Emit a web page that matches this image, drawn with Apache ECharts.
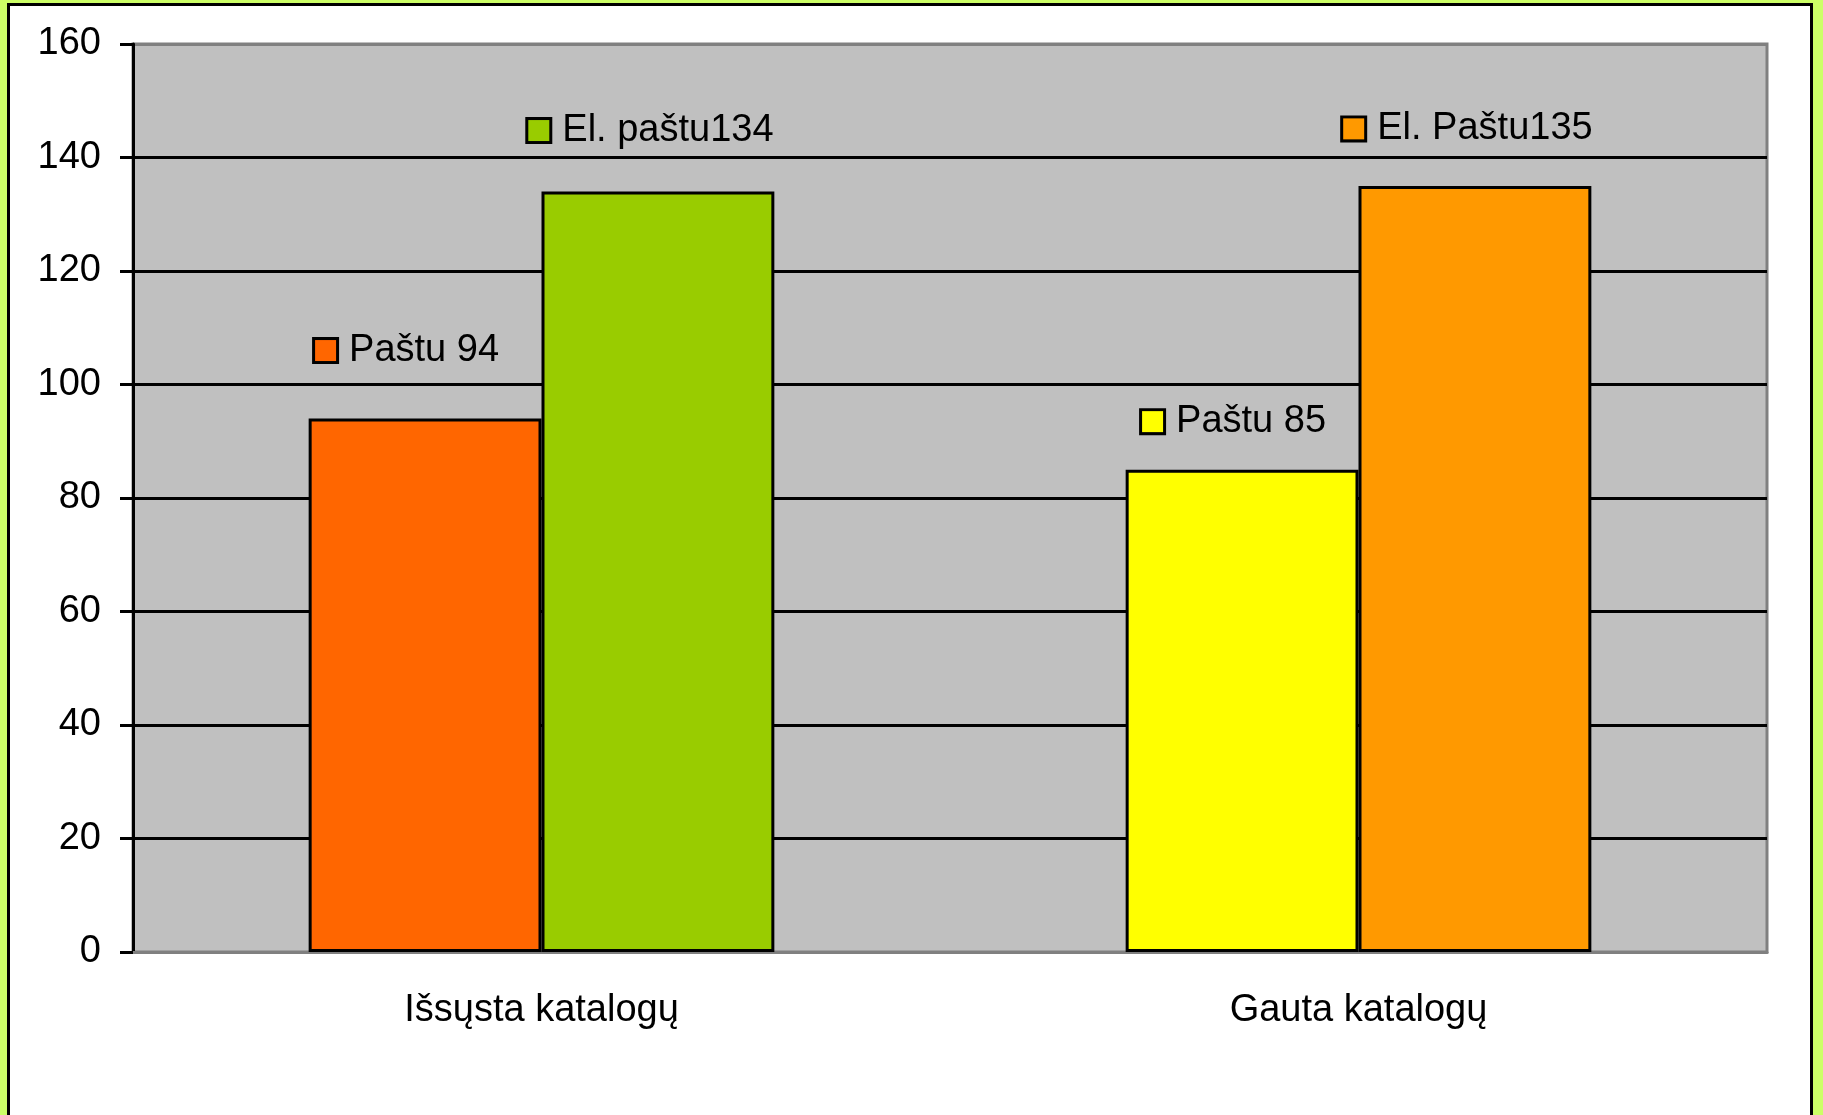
<!DOCTYPE html>
<html lang="lt">
<head>
<meta charset="UTF-8">
<title>Katalogai</title>
<script src="https://cdn.jsdelivr.net/npm/echarts@6/dist/echarts.min.js"></script>
<style>
  html, body { margin: 0; padding: 0; background: #ccff66; }
  #chart { width: 1823px; height: 1115px; }
</style>
</head>
<body>
<div id="chart"></div>
<script>
// duomenys
const categories = ['Išsųsta katalogų', 'Gauta katalogų'];
const pastuValues = [94, 85];
const elPastuValues = [134, 135];
const pastuLabels = ['Paštu ', 'Paštu '];
const elPastuLabels = ['El. paštu', 'El. Paštu'];
const pastuColors = ['#ff6600', '#ffff00'];
const elPastuColors = ['#99cc00', '#ff9900'];
const yTicks = [0, 20, 40, 60, 80, 100, 120, 140, 160];

// label placement (Excel put them by hand)
const pastuLift = [[-18, -44], [-8, -24]];
const elPastuLift = [[-7, -37], [-7, -33]];

const FONT = '"Liberation Sans", Arial, sans-serif';

function buildItems(values, prefixes, colors, lift) {
  return values.map((v, i) => ({
    value: v,
    itemStyle: { color: colors[i] },
    label: {
      show: true,
      position: 'top',
      offset: lift[i],
      formatter: '{box|}{t|' + prefixes[i] + v + '}',
      rich: {
        box: {
          width: 21, height: 21,
          backgroundColor: colors[i],
          borderColor: '#000', borderWidth: 3
        },
        t: {
          fontFamily: FONT, fontSize: 38, color: '#000',
          padding: [0, 0, 0, 13]
        }
      }
    }
  }));
}

const chart = echarts.init(document.getElementById('chart'));

// split line colours: grey on 0 and 160, black in between
const splitColors = yTicks.map((t, i) => (i === 0 || i === yTicks.length - 1) ? '#808080' : '#000');

chart.setOption({
  backgroundColor: '#ccff66',
  animation: false,
  graphic: [{
    type: 'rect',
    z: -100,
    silent: true,
    shape: { x: 8.5, y: 4.5, width: 1803, height: 1300 },
    style: { fill: '#fff', stroke: '#000', lineWidth: 3 }
  }],
  grid: {
    left: 133, top: 44, right: 56, bottom: 163,
    show: true,
    backgroundColor: '#c0c0c0',
    borderColor: '#808080',
    borderWidth: 3
  },
  xAxis: {
    type: 'category',
    data: categories,
    axisLine: { show: true, lineStyle: { color: '#808080', width: 3 } },
    axisTick: { show: false },
    axisLabel: {
      fontFamily: FONT, fontSize: 38, color: '#000', margin: 40
    }
  },
  yAxis: {
    type: 'value',
    min: 0, max: 160, interval: 20,
    axisLine: { show: true, lineStyle: { color: '#000', width: 3 } },
    axisTick: { show: true, length: 13, lineStyle: { color: '#000', width: 3 } },
    axisLabel: {
      fontFamily: FONT, fontSize: 38, color: '#000', margin: 32
    },
    splitLine: { show: true, lineStyle: { color: splitColors, width: 3 } }
  },
  series: [
    {
      name: 'Paštu',
      type: 'bar',
      barGap: 0,
      barCategoryGap: '43%',
      itemStyle: { borderColor: '#000', borderWidth: 3 },
      data: buildItems(pastuValues, pastuLabels, pastuColors, pastuLift)
    },
    {
      name: 'El. paštu',
      type: 'bar',
      barGap: 0,
      barCategoryGap: '43%',
      itemStyle: { borderColor: '#000', borderWidth: 3 },
      data: buildItems(elPastuValues, elPastuLabels, elPastuColors, elPastuLift)
    }
  ]
});
</script>
</body>
</html>
